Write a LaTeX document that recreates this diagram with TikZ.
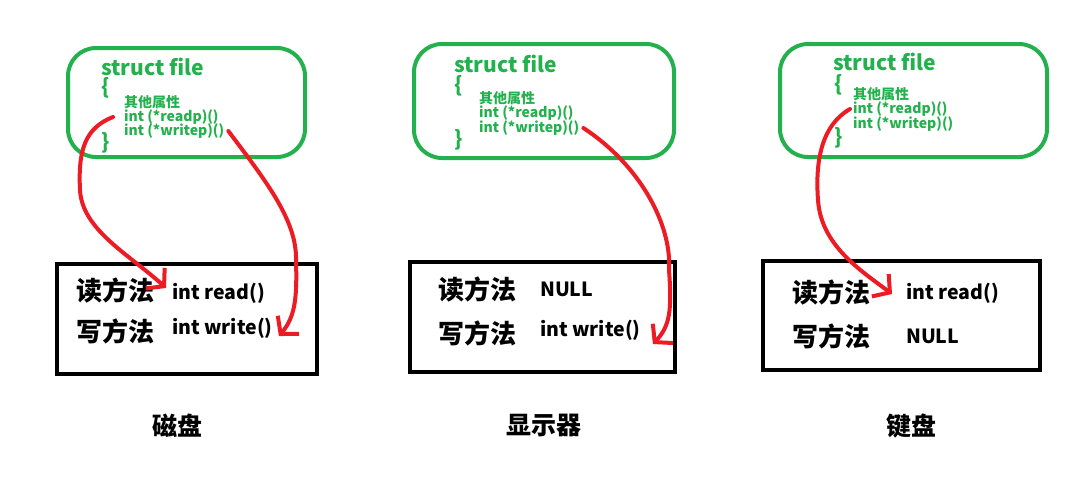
\documentclass[tikz,border=0pt]{standalone}
\usepackage{fontspec}
\setmainfont{Noto Sans CJK SC}
\usetikzlibrary{arrows.meta}
\definecolor{pengreen}{RGB}{34,177,76}
\definecolor{penred}{RGB}{237,28,36}

\begin{document}
\begin{tikzpicture}[x=1pt,y=-1pt,
  filebox/.style={draw=pengreen, line width=4pt, rounded corners=28pt},
  devbox/.style={draw=black, line width=4pt},
  head/.style={text=pengreen, anchor=west, inner sep=0pt, font=\fontsize{21}{21}\selectfont\bfseries},
  field/.style={text=pengreen, anchor=west, inner sep=0pt, font=\fontsize{14}{14}\selectfont\bfseries},
  method/.style={anchor=west, inner sep=0pt, font=\fontsize{26}{26}\selectfont\bfseries},
  impl/.style={anchor=west, inner sep=0pt, font=\fontsize{19.5}{19.5}\selectfont\bfseries},
  dev/.style={inner sep=0pt, font=\fontsize{25}{25}\selectfont\bfseries},
  pen/.style={draw=penred, line width=4pt, line cap=round,
    -{Straight Barb[length=12pt, width=28pt, line width=4pt]}}]
\useasboundingbox (0,0) rectangle (1086,493);

% struct file boxes
\draw[filebox] (68,48) rectangle (305,157);
\draw[filebox] (414,44) rectangle (674,158);
\draw[filebox] (780,44) rectangle (1047,157);

\node[head] (sf1) at (101,67) {struct file};
\node[head] (lb1) at (101,88) {\{};
\node[field] (oth1) at (124,102) {其他属性};
\node[field] (rdp1) at (124,117) {int (*readp)()};
\node[field] (wrp1) at (124,131) {int (*writep)()};
\node[head] (rb1) at (101,143) {\}};

\node[head] (sf2) at (454,64) {struct file};
\node[head] (lb2) at (454,86) {\{};
\node[field] (oth2) at (479,98) {其他属性};
\node[field] (rdp2) at (479,113) {int (*readp)()};
\node[field] (wrp2) at (479,128) {int (*writep)()};
\node[head] (rb2) at (454,140) {\}};

\node[head] (sf3) at (833,62) {struct file};
\node[head] (lb3) at (834,85) {\{};
\node[field] (oth3) at (853,94) {其他属性};
\node[field] (rdp3) at (853,109) {int (*readp)()};
\node[field] (wrp3) at (853,124) {int (*writep)()};
\node[head] (rb3) at (834,138) {\}};

% device method tables
\draw[devbox] (57,264) rectangle (317,374);
\draw[devbox] (410,262) rectangle (675,372);
\draw[devbox] (763,261) rectangle (1040,370);

\node[method] (rm1) at (76,290) {读方法};
\node[impl] (rd1) at (172,293) {int read()};
\node[method] (wm1) at (76,331) {写方法};
\node[impl] (wr1) at (172,328) {int write()};

\node[method] (rm2) at (438,289) {读方法};
\node[impl] (rd2) at (540,289) {NULL};
\node[method] (wm2) at (438,333) {写方法};
\node[impl] (wr2) at (540,330) {int write()};

\node[method] (rm3) at (792,292) {读方法};
\node[impl] (rd3) at (906,293) {int read()};
\node[method] (wm3) at (792,336) {写方法};
\node[impl] (wr3) at (906,336) {NULL};

\node[dev] (disk) at (177,426) {磁盘};
\node[dev] (scr) at (544,425) {显示器};
\node[dev] (kbd) at (911,426) {键盘};

% pointers
\draw[pen] ([xshift=-11pt]rdp1.west) .. controls (85,128) and (78,150) .. (80,190)
  .. controls (82,230) and (130,255) .. ([xshift=-6pt,yshift=5pt]rd1.west);
\draw[pen] ([xshift=4pt]wrp1.east) .. controls (265,180) and (297,220) .. (296,260)
  .. controls (297,295) and (296,316) .. ([xshift=6pt,yshift=-8pt]wr1.east);
\draw[pen] ([xshift=4pt]wrp2.east) .. controls (640,165) and (672,225) .. (669,270)
  .. controls (672,310) and (670,326) .. ([xshift=12pt,yshift=-14pt]wr2.east);
\draw[pen] ([xshift=-3pt]rdp3.west) .. controls (822,125) and (815,160) .. (818,200)
  .. controls (821,245) and (860,270) .. ([xshift=-14pt,yshift=-1pt]rd3.west);
\end{tikzpicture}
\end{document}
